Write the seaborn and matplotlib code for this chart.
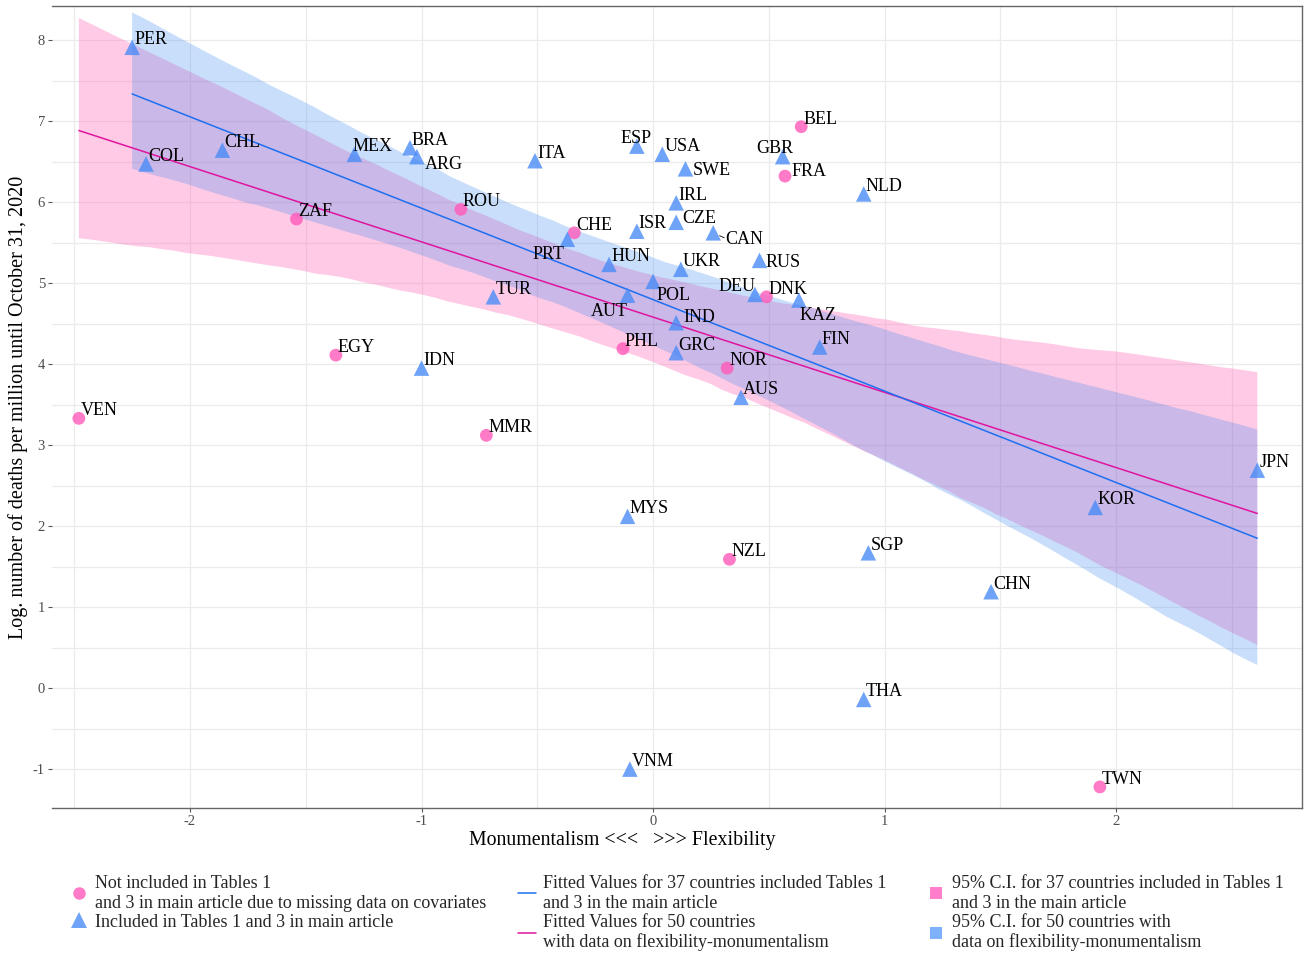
import numpy as np
import pandas as pd
import matplotlib
matplotlib.use("Agg")
import matplotlib.pyplot as plt
from matplotlib.lines import Line2D
import seaborn as sns

# ---------------- data ----------------
countries = ["PER", "COL", "CHL", "MEX", "BRA", "ARG", "ITA", "ESP", "USA", "SWE",
             "GBR", "NLD", "IRL", "PRT", "ISR", "CZE", "CAN", "HUN", "UKR", "POL",
             "RUS", "DEU", "KAZ", "TUR", "AUT", "IND", "GRC", "FIN", "AUS", "IDN",
             "MYS", "SGP", "CHN", "KOR", "JPN", "THA", "VNM",
             "ZAF", "ROU", "BEL", "FRA", "CHE", "DNK", "PHL", "NOR", "VEN", "EGY",
             "MMR", "NZL", "TWN"]
flexibility = [-2.25, -2.19, -1.86, -1.29, -1.05, -1.02, -0.51, -0.07, 0.04, 0.14,
               0.56, 0.91, 0.10, -0.37, -0.07, 0.10, 0.26, -0.19, 0.12, 0.00,
               0.46, 0.44, 0.63, -0.69, -0.11, 0.10, 0.10, 0.72, 0.38, -1.00,
               -0.11, 0.93, 1.46, 1.91, 2.61, 0.91, -0.10,
               -1.54, -0.83, 0.64, 0.57, -0.34, 0.49, -0.13, 0.32, -2.48, -1.37,
               -0.72, 0.33, 1.93]
log_deaths = [7.91, 6.47, 6.64, 6.59, 6.67, 6.56, 6.51, 6.69, 6.59, 6.41,
              6.56, 6.10, 5.99, 5.54, 5.64, 5.75, 5.62, 5.23, 5.17, 5.02,
              5.28, 4.86, 4.79, 4.83, 4.85, 4.51, 4.14, 4.21, 3.59, 3.95,
              2.12, 1.67, 1.19, 2.23, 2.69, -0.14, -1.00,
              5.79, 5.91, 6.93, 6.32, 5.62, 4.83, 4.19, 3.95, 3.33, 4.11,
              3.12, 1.59, -1.22]
in_tables = [True] * 37 + [False] * 13

x_ticks = [-2, -1, 0, 1, 2]
y_ticks = [-1, 0, 1, 2, 3, 4, 5, 6, 7, 8]

legend_points = ["Not included in Tables 1\nand 3 in main article due to missing data on covariates",
                 "Included in Tables 1 and 3 in main article"]
legend_lines = ["Fitted Values for 37 countries included Tables 1\nand 3 in the main article",
                "Fitted Values for 50 countries\nwith data on flexibility-monumentalism"]
legend_bands = ["95% C.I. for 37 countries included in Tables 1\nand 3 in the main article",
                "95% C.I. for 50 countries with\ndata on flexibility-monumentalism"]

# label offsets (pixels) for repelled labels; default otherwise
label_offsets = {"ARG": (8, -12), "ESP": (-16, 3), "SWE": (7, -6), "GBR": (-26, 4),
                 "FRA": (7, 0), "PRT": (-35, -20), "CZE": (6, -1), "CAN": (12, -11),
                 "POL": (3, -19), "RUS": (6, -7), "DEU": (-36, 3), "KAZ": (1, -20),
                 "AUT": (-37, -21), "IND": (7, 1), "MEX": (-2, 3)}
default_offset = (2, 3)

df = pd.DataFrame({"country": countries, "flex": flexibility,
                   "deaths": log_deaths, "included": in_tables})
df_in = df[df["included"]]
df_out = df[~df["included"]]

# ---------------- style ----------------
sns.set_theme(style="white")
plt.rcParams["font.family"] = ["Liberation Serif", "DejaVu Serif"]

W, H = 1304, 957
fig = plt.figure(figsize=(W / 100, H / 100), dpi=100)
ax = fig.add_axes([52 / W, 1 - 808 / H, (1302 - 52) / W, (808 - 6) / H])

pink_line = "#E0159F"
blue_line = "#1F6FF0"
pink_band = (1.0, 0.41, 0.71)
blue_band = (0.24, 0.54, 0.945)
pink_pt = "#FF5ABA"
blue_pt = "#4B8CF7"

# regression for all 50 countries (pink)
sns.regplot(data=df, x="flex", y="deaths", scatter=False, ci=95, seed=0, n_boot=2000,
            color=pink_line, line_kws={"lw": 1.1}, ax=ax)
coll_pink = ax.collections[-1]
coll_pink.set_facecolor(pink_band)
coll_pink.set_alpha(0.35)
coll_pink.set_edgecolor("none")
coll_pink.set_zorder(1)
ax.lines[-1].set_zorder(3)

# regression for 37 countries (blue)
sns.regplot(data=df_in, x="flex", y="deaths", scatter=False, ci=95, seed=0, n_boot=2000,
            color=blue_line, line_kws={"lw": 1.1}, ax=ax)
coll_blue = ax.collections[-1]
coll_blue.set_facecolor(blue_band)
coll_blue.set_alpha(0.28)
coll_blue.set_edgecolor("none")
coll_blue.set_zorder(2)
ax.lines[-1].set_zorder(3)

# points
sns.scatterplot(data=df_out, x="flex", y="deaths", marker="o", s=85, color=pink_pt,
                alpha=0.8, edgecolor="none", ax=ax, zorder=4)
sns.scatterplot(data=df_in, x="flex", y="deaths", marker="^", s=125, color=blue_pt,
                alpha=0.8, edgecolor="none", ax=ax, zorder=4)

# labels
for c, xv, yv in zip(countries, flexibility, log_deaths):
    dx, dy = label_offsets.get(c, default_offset)
    ax.annotate(c, (xv, yv), xytext=(dx, dy), textcoords="offset pixels",
                ha="left", va="baseline", fontsize=13, color="black", zorder=5)
# small segment for CAN
ci = countries.index("CAN")
ax.annotate("", (flexibility[ci], log_deaths[ci]), xytext=(11, -5), textcoords="offset pixels",
            arrowprops=dict(arrowstyle="-", color="black", lw=0.6, shrinkA=0, shrinkB=5), zorder=5)

# axes
ax.set_xlim(-2.596, 2.803)
ax.set_ylim(-1.48, 8.42)
ax.set_xticks(x_ticks)
ax.set_yticks(y_ticks)
ax.set_xticklabels([str(v) for v in x_ticks])
ax.set_yticklabels([str(v) for v in y_ticks])
ax.set_xticks(np.arange(-2.5, 2.81, 0.5), minor=True)
ax.set_yticks(np.arange(-1.0, 8.5, 0.5), minor=True)
ax.grid(which="both", color="#EBEBEB", lw=0.9)
ax.set_axisbelow(True)
ax.set_xlabel("")
ax.set_ylabel("")
ax.tick_params(axis="both", which="major", labelsize=10.5, labelcolor="#4D4D4D",
               color="#555555", length=3, width=0.8, pad=2)
ax.tick_params(axis="both", which="minor", length=0)
ax.tick_params(axis="x", bottom=True)
ax.tick_params(axis="y", left=True)
for s in ["top", "right", "bottom"]:
    ax.spines[s].set_visible(True)
    ax.spines[s].set_color("#666666")
    ax.spines[s].set_linewidth(1.0)
ax.spines["left"].set_visible(False)

fig.text(622 / W, 1 - 841 / H, "Monumentalism <<<   >>> Flexibility", ha="center", va="center",
         fontsize=14.3, color="black")
fig.text(18 / W, 1 - 407 / H, "Log. number of deaths per million until October 31, 2020",
         rotation=90, ha="center", va="center", fontsize=14.5, color="black")

# legend: three columns
h_points = [
    Line2D([], [], marker="o", ls="none", color=pink_pt, alpha=0.8, markersize=9, markeredgewidth=0),
    Line2D([], [], marker="^", ls="none", color=blue_pt, alpha=0.8, markersize=11, markeredgewidth=0),
]
h_lines = [Line2D([], [], color=blue_line, lw=1.1), Line2D([], [], color=pink_line, lw=1.1)]
h_bands = [
    Line2D([], [], marker="s", ls="none", color="#FF7FCB", markersize=9, markeredgewidth=0),
    Line2D([], [], marker="s", ls="none", color="#7FB0FA", markersize=9, markeredgewidth=0),
]
for hs, ls, x0 in [(h_points, legend_points, 70), (h_lines, legend_lines, 518),
                   (h_bands, legend_bands, 927)]:
    fig.legend(hs, ls, loc="upper left", bbox_to_anchor=(x0 / W, 1 - 875 / H),
               frameon=False, fontsize=13, handlelength=1.0, handletextpad=0.4,
               labelspacing=0.12, borderaxespad=0, borderpad=0)

fig.savefig("out.png", dpi=100)
